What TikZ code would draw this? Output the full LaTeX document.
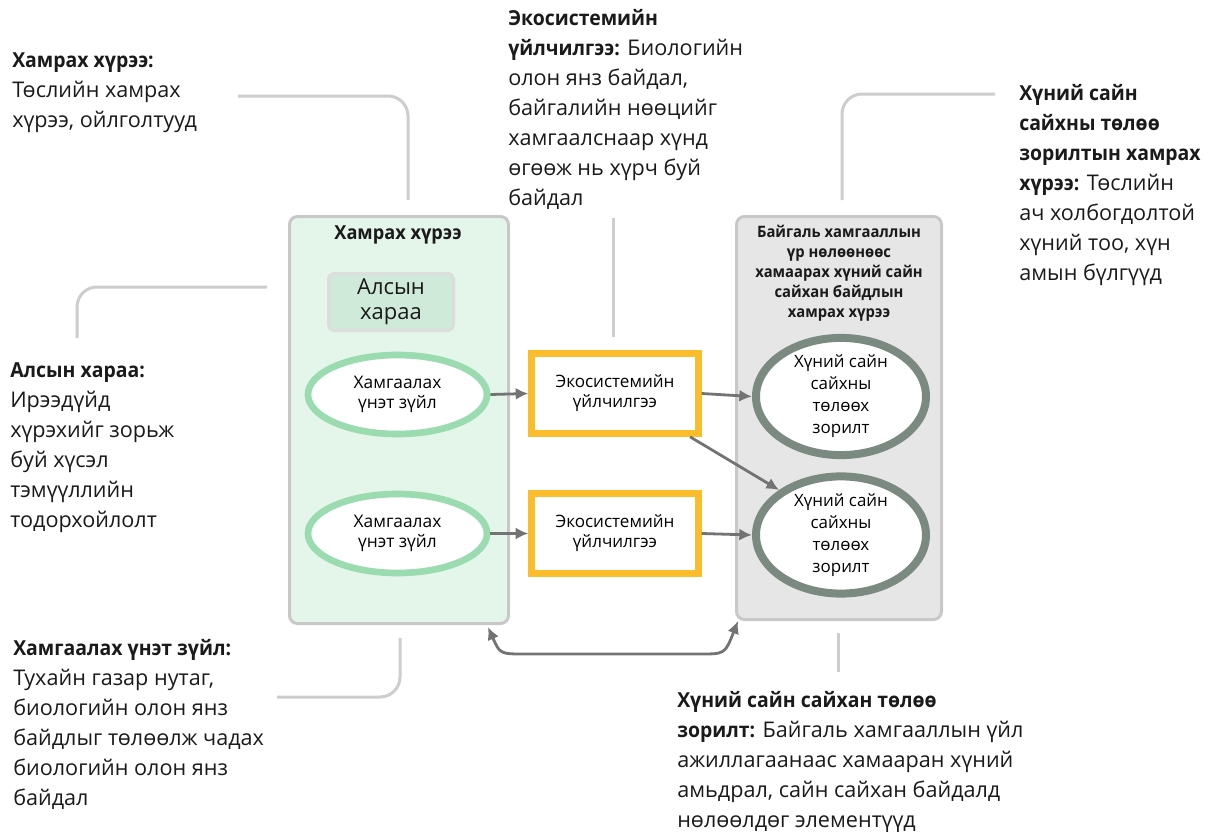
\documentclass[tikz,border=0pt]{standalone}
\usepackage{fontspec}
\setmainfont{Open Sans}[BoldFeatures={FakeStretch=0.94}]
\usetikzlibrary{arrows.meta,shapes.geometric}
\definecolor{gfill}{HTML}{E4F5E9}
\definecolor{pborder}{HTML}{C8C8C8}
\definecolor{afill}{HTML}{CFEAD9}
\definecolor{aborder}{HTML}{DDDDDD}
\definecolor{gring}{HTML}{9ADBB0}
\definecolor{yring}{HTML}{FBBD2B}
\definecolor{rfill}{HTML}{E6E6E6}
\definecolor{dring}{HTML}{7B8A80}
\definecolor{arrgray}{HTML}{737373}
\definecolor{leadgray}{HTML}{CDCDCD}
\definecolor{txt}{HTML}{1A1A1A}
\newcommand{\annbox}[1]{\parbox[t]{320pt}{\fontsize{16.2}{22.5}\selectfont\raggedright #1}}
\newcommand{\hb}[1]{{\bfseries\fontsize{15.5}{22.5}\selectfont #1}}
\begin{document}
\begin{tikzpicture}[x=0.75pt,y=-0.75pt,
  panel/.style={rectangle, draw=pborder, line width=2.25pt, rounded corners=6pt, inner sep=0pt},
  gell/.style={ellipse, draw=gring, line width=5pt, fill=white, minimum width=134.25pt, minimum height=59.25pt, inner sep=0pt, align=center, font=\fontsize{13}{15}\selectfont},
  ybox/.style={rectangle, draw=yring, line width=5pt, fill=white, minimum width=125pt, minimum height=60pt, inner sep=0pt, align=center, font=\fontsize{12.8}{15}\selectfont},
  dell/.style={ellipse, draw=dring, line width=6pt, fill=white, minimum width=127.5pt, minimum height=74pt, inner sep=0pt, align=center, font=\fontsize{12.7}{16.5}\selectfont},
  arr/.style={draw=arrgray, line width=2.1pt, -{Latex[length=9.5pt,width=9pt]}},
  dbl/.style={draw=arrgray, line width=2.1pt, {Latex[length=9.5pt,width=9pt]}-{Latex[length=9.5pt,width=9pt]}},
  lead/.style={draw=leadgray, line width=2.25pt, rounded corners=15pt},
  ann/.style={anchor=base west, inner sep=0pt, text=txt}
]
\useasboundingbox (0,0) rectangle (1208,832);

% panels
\node[panel, fill=gfill, minimum width=164.25pt, minimum height=305.25pt] (gp) at (399,420) {};
\node[panel, fill=rfill, minimum width=153.75pt, minimum height=302.25pt] (rp) at (839,418) {};

% leader lines
\draw[lead] (238,96) -- (408,96) -- (408,200);
\draw[lead] (267,287) -- (77,287) -- (77,338);
\draw[lead] (613,218) -- (613,337);
\draw[lead] (995,94) -- (842,94) -- (842,200);
\draw[lead] (277,697) -- (400,697) -- (400,638);
\draw[lead] (838,633) -- (838,672);

% panel titles
\node[anchor=base, inner sep=0pt, text=txt, font=\bfseries\fontsize{14.5}{16}\selectfont] (gt) at (398,239) {Хамрах хүрээ};
\node[anchor=base, inner sep=0pt, text=txt] (rt) at (839,237) {\parbox[t]{154pt}{\centering\bfseries\fontsize{11.8}{15}\selectfont Байгаль хамгааллын\\үр нөлөөнөөс\\хамаарах хүний сайн\\сайхан байдлын\\хамрах хүрээ}};

% inner nodes
\node[rectangle, draw=aborder, fill=afill, line width=2.25pt, rounded corners=4pt, minimum width=93.75pt, minimum height=42.75pt, inner sep=0pt, align=center, text=txt, font=\fontsize{16.5}{18.5}\selectfont] (vis) at (391,302) {Алсын\\хараа};
\node[gell] (e1) at (397.5,394.5) {Хамгаалах\\үнэт зүйл};
\node[gell] (e2) at (397.5,533.5) {Хамгаалах\\үнэт зүйл};
\node[ybox] (b1) at (615,393.5) {Экосистемийн\\үйлчилгээ};
\node[ybox] (b2) at (615,533.5) {Экосистемийн\\үйлчилгээ};
\node[dell] (e3) at (841,396.5) {Хүний сайн\\сайхны\\төлөөх\\зорилт};
\node[dell] (e4) at (841,535) {Хүний сайн\\сайхны\\төлөөх\\зорилт};

% arrows
\draw[arr] (e1.east) -- (b1.west);
\draw[arr] (e2.east) -- (b2.west);
\draw[arr] (b1.east) -- (e3.west);
\draw[arr] (b2.east) -- (e4.west);
\draw[arr] (b1.-30) -- (e4.144);
\coordinate (c1) at (488,627);
\coordinate (c2) at (738,621);
\draw[dbl] (c1) .. controls (500,654) .. (525,654) -- (700,654) .. controls (725,654) .. (c2);

% annotations
\node[ann] (a1) at (12,67) {\annbox{\hb{Хамрах хүрээ:}\\Төслийн хамрах\\хүрээ, ойлголтууд}};
\node[ann] (a2) at (10,377) {\annbox{\hb{Алсын хараа:}\\Ирээдүйд\\хүрэхийг зорьж\\буй хүсэл\\тэмүүллийн\\тодорхойлолт}};
\node[ann] (a3) at (13,655) {\annbox{\hb{Хамгаалах үнэт зүйл:}\\Тухайн газар нутаг,\\биологийн олон янз\\байдлыг төлөөлж чадах\\биологийн олон янз\\байдал}};
\node[ann] (a4) at (508,25) {\annbox{\hb{Экосистемийн\\үйлчилгээ:} Биологийн\\олон янз байдал,\\байгалийн нөөцийг\\хамгаалснаар хүнд\\өгөөж нь хүрч буй\\байдал}};
\node[ann] (a5) at (1019,100) {\annbox{\hb{Хүний сайн\\сайхны төлөө\\зорилтын хамрах\\хүрээ:} Төслийн\\ач холбогдолтой\\хүний тоо, хүн\\амын бүлгүүд}};
\node[ann] (a6) at (677,707) {\annbox{\hb{Хүний сайн сайхан төлөө\\зорилт:} Байгаль хамгааллын үйл\\ажиллагаанаас хамааран хүний\\амьдрал, сайн сайхан байдалд\\нөлөөлдөг элементүүд}};
\end{tikzpicture}
\end{document}
